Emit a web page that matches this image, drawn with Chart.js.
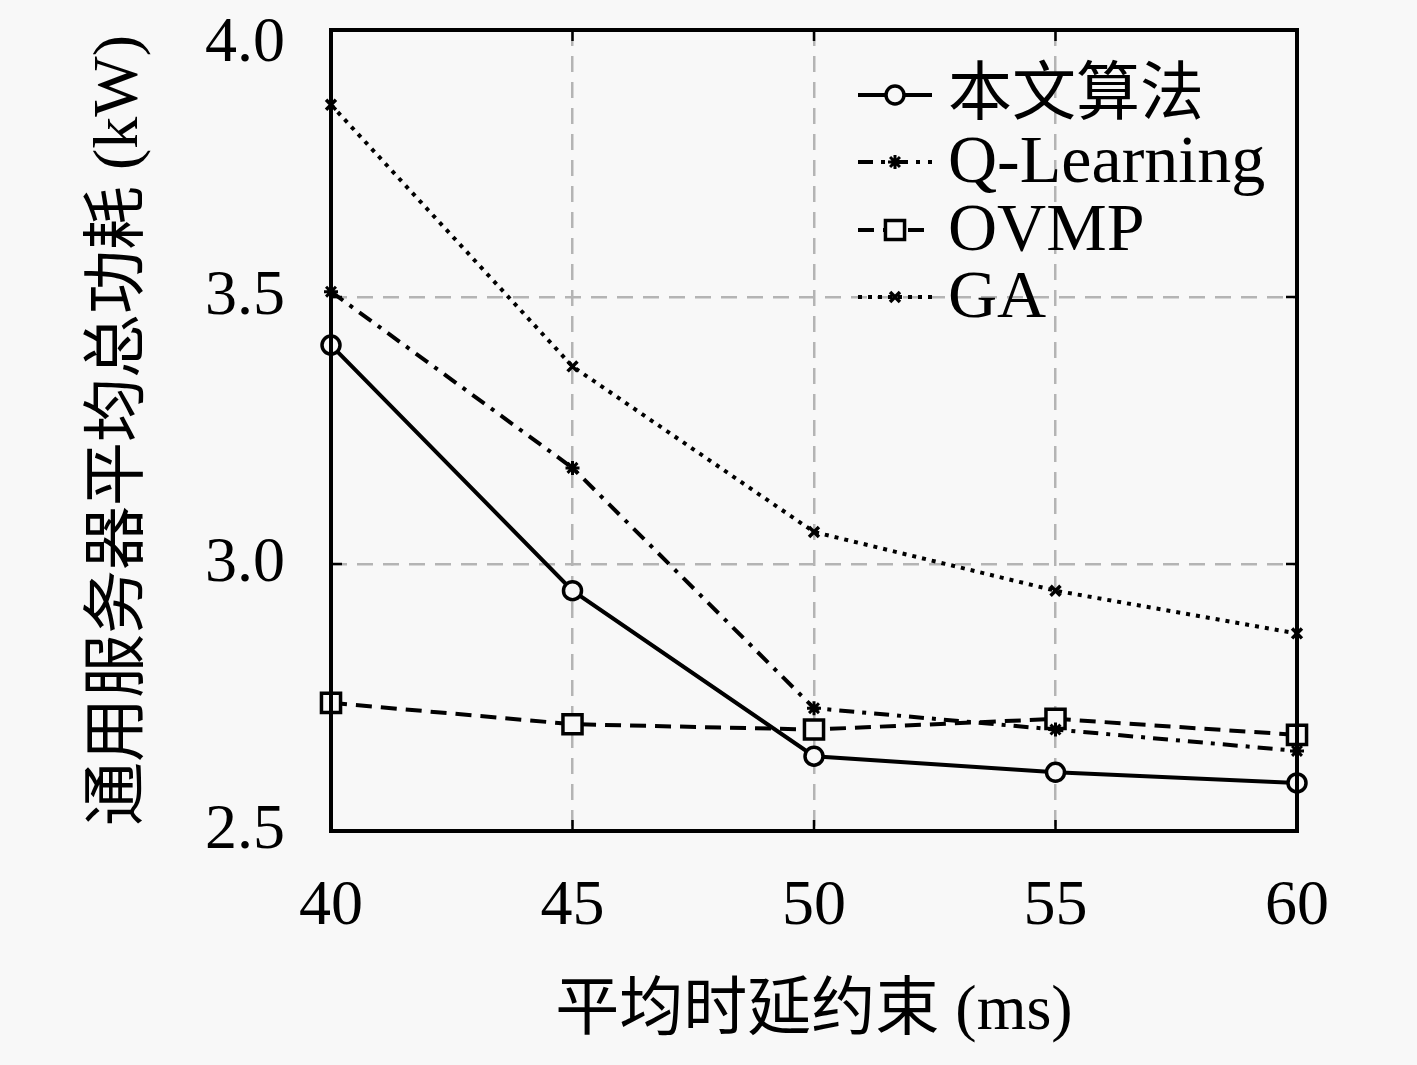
<!DOCTYPE html>
<html>
<head>
<meta charset="utf-8">
<script src="https://cdn.jsdelivr.net/npm/chart.js@4/dist/chart.umd.min.js"></script>
<style>
html,body{margin:0;padding:0;background:#f8f8f8;}
#wrap{width:1417px;height:1065px;}
</style>
</head>
<body>
<div id="wrap"><canvas id="c" width="1417" height="1065"></canvas></div>
<script>
const delays = [40, 45, 50, 55, 60];
const ours = [3.41, 2.95, 2.64, 2.61, 2.59];
const qlearning = [3.51, 3.18, 2.73, 2.69, 2.65];
const ovmp = [2.74, 2.70, 2.69, 2.71, 2.68];
const ga = [3.86, 3.37, 3.06, 2.95, 2.87];
const seriesNames = ['本文算法', 'Q-Learning', 'OVMP', 'GA'];
const yTicks = [2.5, 3.0, 3.5, 4.0];
const xTitle = '平均时延约束 (ms)';
const yTitle = '通用服务器平均总功耗 (kW)';

const BG = '#f8f8f8';
const FONT = "'Liberation Serif', 'Noto Sans CJK SC', serif";

function pts(arr){ return arr.map((v,i)=>({x:delays[i], y:v})); }

const styles = [
  {dash:[], ps:'circle', r:9, fill:BG, bw:3.5},
  {dash:[15,8,4,8], ps:'star', r:7, fill:'#000', bw:3},
  {dash:[16,9], ps:'rect', r:13.5, fill:BG, bw:3.5},
  {dash:[4,6], ps:'crossRot', r:7, fill:'#000', bw:3.5}
];
const values = [ours, qlearning, ovmp, ga];

const datasets = values.map((v,i)=>({
  label: seriesNames[i],
  data: pts(v),
  borderColor:'#000',
  borderWidth:4,
  borderDash: styles[i].dash,
  pointStyle: styles[i].ps,
  pointRadius: styles[i].r,
  pointBorderWidth: styles[i].bw,
  pointBackgroundColor: styles[i].fill,
  pointBorderColor:'#000',
  tension:0,
  clip:false,
  fill:false
}));

function drawMarker(ctx, st, x, y){
  ctx.save();
  ctx.setLineDash([]);
  ctx.lineWidth = st.bw;
  ctx.strokeStyle = '#000';
  ctx.fillStyle = st.fill;
  const r = st.r;
  const s = r*Math.SQRT1_2;
  ctx.beginPath();
  if (st.ps === 'circle'){ ctx.arc(x,y,r,0,Math.PI*2); ctx.fill(); ctx.stroke(); }
  else if (st.ps === 'rect'){ ctx.rect(x-s,y-s,2*s,2*s); ctx.fill(); ctx.stroke(); }
  else if (st.ps === 'star'){
    ctx.moveTo(x-r,y); ctx.lineTo(x+r,y); ctx.moveTo(x,y-r); ctx.lineTo(x,y+r);
    ctx.moveTo(x-s,y-s); ctx.lineTo(x+s,y+s); ctx.moveTo(x+s,y-s); ctx.lineTo(x-s,y+s); ctx.stroke();
  }
  else if (st.ps === 'crossRot'){ ctx.moveTo(x-s,y-s); ctx.lineTo(x+s,y+s); ctx.moveTo(x+s,y-s); ctx.lineTo(x-s,y+s); ctx.stroke(); }
  ctx.restore();
}

const bgPlugin = {
  id:'bg',
  beforeDraw(chart){
    const ctx = chart.ctx;
    ctx.save(); ctx.fillStyle = BG; ctx.fillRect(0,0,chart.width,chart.height); ctx.restore();
  }
};

const framePlugin = {
  id:'frame',
  afterDatasetsDraw(chart){
    const ctx = chart.ctx, a = chart.chartArea;
    const xs = chart.scales.x, ys = chart.scales.y;
    ctx.save();
    ctx.strokeStyle = '#000';
    ctx.lineWidth = 4;
    ctx.setLineDash([]);
    ctx.strokeRect(a.left, a.top, a.right-a.left, a.bottom-a.top);
    ctx.lineWidth = 2.5;
    const tl = 11;
    delays.forEach(v=>{
      const px = xs.getPixelForValue(v);
      ctx.beginPath();
      ctx.moveTo(px, a.bottom); ctx.lineTo(px, a.bottom - tl);
      ctx.moveTo(px, a.top); ctx.lineTo(px, a.top + tl);
      ctx.stroke();
    });
    yTicks.forEach(v=>{
      const py = ys.getPixelForValue(v);
      ctx.beginPath();
      ctx.moveTo(a.left, py); ctx.lineTo(a.left + tl, py);
      ctx.moveTo(a.right, py); ctx.lineTo(a.right - tl, py);
      ctx.stroke();
    });
    ctx.restore();
  }
};

const legendPlugin = {
  id:'customLegend',
  afterDraw(chart){
    const ctx = chart.ctx;
    const rows = [95, 162, 230, 297];
    const x0 = 858, x1 = 932, tx = 948;
    ctx.save();
    seriesNames.forEach((name,i)=>{
      const y = rows[i];
      ctx.strokeStyle = '#000';
      ctx.lineWidth = 4;
      ctx.setLineDash(styles[i].dash);
      ctx.beginPath(); ctx.moveTo(x0,y); ctx.lineTo(x1,y); ctx.stroke();
      drawMarker(ctx, styles[i], (x0+x1)/2, y);
      ctx.fillStyle = '#000';
      ctx.font = (i===0 ? "64px " : "68px ") + FONT;
      ctx.textBaseline = 'middle';
      ctx.textAlign = 'left';
      ctx.fillText(name, tx, y + 2);
    });
    ctx.restore();
  }
};

new Chart(document.getElementById('c'), {
  type:'line',
  data:{ datasets },
  options:{
    responsive:false,
    animation:false,
    devicePixelRatio:1,
    layout:{ padding:{ top:30, right:120, bottom:0, left:0 } },
    plugins:{ legend:{display:false}, tooltip:{enabled:false} },
    scales:{
      x:{
        type:'linear', min:40, max:60,
        afterBuildTicks(s){ s.ticks = delays.map(v=>({value:v})); },
        afterFit(s){ s.height = 234; s.paddingLeft = 0; s.paddingRight = 0; },
        border:{display:false, dash:[16,10]},
        grid:{
          drawTicks:false,
          color:(c)=> (c.tick && (c.tick.value===40 || c.tick.value===60)) ? 'rgba(0,0,0,0)' : '#b4b4b4',
          lineWidth:2.5
        },
        ticks:{ color:'#000', padding:38, font:{family:FONT, size:64}, maxRotation:0, callback:(v)=>String(v) },
        title:{ display:true, text:xTitle, color:'#000', font:{family:FONT, size:64}, padding:{top:0,bottom:14} }
      },
      y:{
        type:'linear', min:2.5, max:4.0,
        afterBuildTicks(s){ s.ticks = yTicks.map(v=>({value:v})); },
        afterFit(s){ s.width = 331; s.paddingTop = 0; s.paddingBottom = 0; },
        border:{display:false, dash:[16,10]},
        grid:{
          drawTicks:false,
          color:(c)=> (c.tick && (c.tick.value===2.5 || c.tick.value===4.0)) ? 'rgba(0,0,0,0)' : '#b4b4b4',
          lineWidth:2.5
        },
        ticks:{
          color:'#000', padding:46,
          font:(c)=> (c.tick && c.tick.value===4.0) ? {family:FONT, size:64, lineHeight:0.45} : {family:FONT, size:64},
          callback:(v)=> v===4.0 ? ['', Number(v).toFixed(1)] : Number(v).toFixed(1)
        },
        title:{ display:true, text:yTitle, color:'#000', font:{family:FONT, size:64}, padding:{top:82,bottom:0} }
      }
    }
  },
  plugins:[bgPlugin, framePlugin, legendPlugin]
});
</script>
</body>
</html>
